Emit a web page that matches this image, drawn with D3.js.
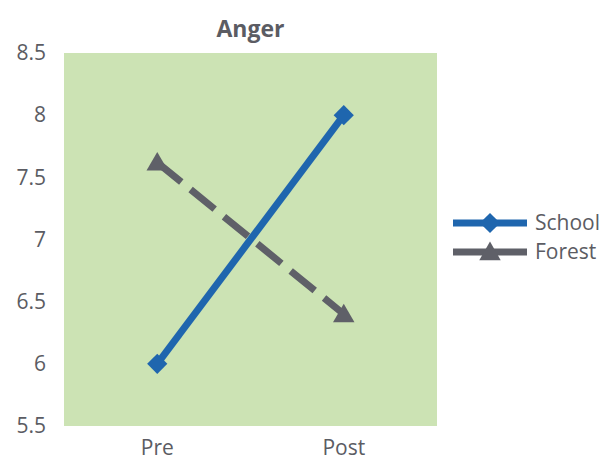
<!DOCTYPE html>
<html>
<head>
<meta charset="utf-8">
<script src="https://cdn.jsdelivr.net/npm/d3@7"></script>
<style>
  body { margin: 0; background: #fff; }
  text { font-family: "Open Sans", "Noto Sans", sans-serif; fill: #5b5c63; }
</style>
</head>
<body>
<div id="chart"></div>
<script>
// data
let categories = ["Pre", "Post"];
let school = [6.0, 8.0];
let forest = [7.62, 6.4];
let yTicks = [5.5, 6, 6.5, 7, 7.5, 8, 8.5];
let seriesNames = ["School", "Forest"];

let width = 605, height = 461;
let plot = {left: 64, right: 437, top: 53, bottom: 426};

let svg = d3.select("#chart").append("svg")
    .attr("width", width)
    .attr("height", height);

let x = d3.scaleBand()
    .domain(categories)
    .range([plot.left, plot.right]);

let y = d3.scaleLinear()
    .domain([5.5, 8.5])
    .range([plot.bottom, plot.top]);

// plot background
svg.append("rect")
    .attr("x", plot.left)
    .attr("y", plot.top)
    .attr("width", plot.right - plot.left)
    .attr("height", plot.bottom - plot.top)
    .style("fill", "#cce3b4");

// title
svg.append("text")
    .attr("x", (plot.left + plot.right) / 2)
    .attr("y", 37)
    .attr("text-anchor", "middle")
    .style("font-size", "23px")
    .style("font-weight", "bold")
    .text("Anger");

// y axis (labels only)
let yAxis = d3.axisLeft(y)
    .tickValues(yTicks)
    .tickSize(0)
    .tickPadding(18)
    .tickFormat(d3.format(""));
let gy = svg.append("g")
    .attr("transform", "translate(" + plot.left + ",0)")
    .call(yAxis);
gy.select(".domain").remove();
gy.selectAll("text")
    .style("font-size", "21px")
    .style("font-family", null)
    .attr("fill", null);

// x axis (labels only)
let xAxis = d3.axisBottom(x)
    .tickSize(0)
    .tickPadding(14);
let gx = svg.append("g")
    .attr("transform", "translate(0," + plot.bottom + ")")
    .call(xAxis);
gx.select(".domain").remove();
gx.selectAll("text")
    .style("font-size", "21px")
    .style("font-family", null)
    .attr("fill", null);

let cx = function(d, i) { return x(categories[i]) + x.bandwidth() / 2; };

let line = d3.line()
    .x(cx)
    .y(function(d) { return y(d); });

let diamond = d3.symbol().type(d3.symbolDiamond2).size(260);
let triangle = d3.symbol().type(d3.symbolTriangle2).size(330);

// Forest (dashed gray)
svg.append("path")
    .datum(forest)
    .attr("d", line)
    .style("fill", "none")
    .style("stroke", "#5f6068")
    .style("stroke-width", "7px")
    .style("stroke-dasharray", "31,12");

svg.selectAll(".forest-pt")
    .data(forest)
  .enter().append("path")
    .attr("class", "forest-pt")
    .attr("d", triangle)
    .attr("transform", function(d, i) { return "translate(" + cx(d, i) + "," + (y(d) + 2) + ")"; })
    .style("fill", "#5f6068");

// School (solid blue)
svg.append("path")
    .datum(school)
    .attr("d", line)
    .style("fill", "none")
    .style("stroke", "#1f66ae")
    .style("stroke-width", "7px");

svg.selectAll(".school-pt")
    .data(school)
  .enter().append("path")
    .attr("class", "school-pt")
    .attr("d", diamond)
    .attr("transform", function(d, i) { return "translate(" + cx(d, i) + "," + y(d) + ")"; })
    .style("fill", "#1f66ae");

// legend
let legend = svg.append("g").attr("class", "legend");
let legendColors = ["#1f66ae", "#5f6068"];
let legendY = [223, 252];

seriesNames.forEach(function(name, i) {
    let g = legend.append("g").attr("transform", "translate(0," + legendY[i] + ")");
    g.append("line")
        .attr("x1", 453).attr("x2", 527)
        .style("stroke", legendColors[i])
        .style("stroke-width", "7px");
    g.append("path")
        .attr("d", i === 0 ? diamond : triangle)
        .attr("transform", "translate(490," + (i === 0 ? 0 : 2) + ")")
        .style("fill", legendColors[i]);
    g.append("text")
        .attr("x", 535)
        .attr("dy", "0.35em")
        .style("font-size", "21px")
        .text(name);
});
</script>
</body>
</html>
